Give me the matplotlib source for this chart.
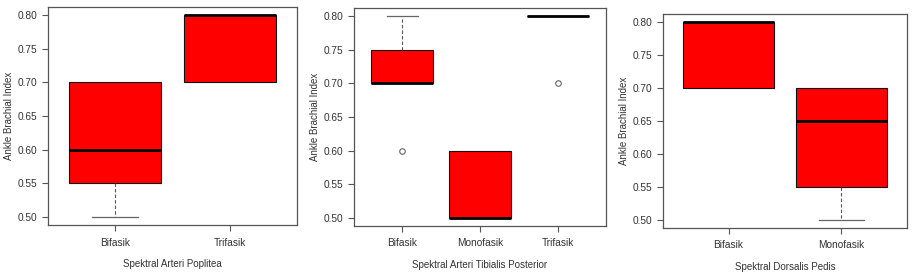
import matplotlib
matplotlib.use("Agg")
import matplotlib.pyplot as plt

plt.rcParams['font.family'] = ['Liberation Sans', 'DejaVu Sans']

# Panel 1: Spektral Arteri Poplitea
p1_cats = ["Bifasik", "Trifasik"]
p1_whislo = [0.50, 0.70]
p1_q1 = [0.55, 0.70]
p1_med = [0.60, 0.80]
p1_q3 = [0.70, 0.80]
p1_whishi = [0.70, 0.80]
p1_fliers = [[], []]

# Panel 2: Spektral Arteri Tibialis Posterior
p2_cats = ["Bifasik", "Monofasik", "Trifasik"]
p2_whislo = [0.70, 0.50, 0.80]
p2_q1 = [0.70, 0.50, 0.80]
p2_med = [0.70, 0.50, 0.80]
p2_q3 = [0.75, 0.60, 0.80]
p2_whishi = [0.80, 0.60, 0.80]
p2_fliers = [[0.60], [], [0.70]]

# Panel 3: Spektral Dorsalis Pedis
p3_cats = ["Bifasik", "Monofasik"]
p3_whislo = [0.70, 0.50]
p3_q1 = [0.70, 0.55]
p3_med = [0.80, 0.65]
p3_q3 = [0.80, 0.70]
p3_whishi = [0.80, 0.70]
p3_fliers = [[], []]

xlabels = ["Spektral Arteri Poplitea", "Spektral Arteri Tibialis Posterior",
           "Spektral Dorsalis Pedis"]
ylabel = "Ankle Brachial Index"
yticks = [0.50, 0.55, 0.60, 0.65, 0.70, 0.75, 0.80]

W, H = 921, 274
fig = plt.figure(figsize=(W / 100, H / 100), dpi=100)

def rect(l, r, t, b):
    return [l / W, (H - b) / H, (r - l) / W, (b - t) / H]

panels = [
    (rect(48, 297, 7, 225), p1_cats, p1_whislo, p1_q1, p1_med, p1_q3, p1_whishi, p1_fliers),
    (rect(354, 606, 8, 226), p2_cats, p2_whislo, p2_q1, p2_med, p2_q3, p2_whishi, p2_fliers),
    (rect(663, 907, 14, 228), p3_cats, p3_whislo, p3_q1, p3_med, p3_q3, p3_whishi, p3_fliers),
]

frame_col = "#555555"
for i, (pos, cats, wlo, q1, med, q3, whi, fl) in enumerate(panels):
    ax = fig.add_axes(pos)
    stats = []
    for j in range(len(cats)):
        stats.append(dict(label=cats[j], whislo=wlo[j], q1=q1[j], med=med[j],
                          q3=q3[j], whishi=whi[j], fliers=fl[j]))
    n = len(cats)
    res = ax.bxp(stats, positions=list(range(1, n + 1)), widths=0.8,
                 patch_artist=True, showfliers=True,
                 boxprops=dict(facecolor="#ff0000", edgecolor="#111111", linewidth=0.8),
                 medianprops=dict(color="#000000", linewidth=2.0, solid_capstyle="butt"),
                 whiskerprops=dict(color="#555555", linewidth=0.8, linestyle=(0, (3, 2))),
                 capprops=dict(color="#666666", linewidth=0.9),
                 capwidths=0.4,
                 flierprops=dict(marker="o", markerfacecolor="none", markeredgecolor="#666666",
                                 markersize=4, markeredgewidth=0.8))
    # hide caps for zero-length whiskers (they sit on the box edge)
    for j in range(n):
        if wlo[j] == q1[j]:
            res["caps"][2 * j].set_visible(False)
        if whi[j] == q3[j]:
            res["caps"][2 * j + 1].set_visible(False)
    ax.set_xlim(0.5 - 0.04 * n, n + 0.5 + 0.04 * n)
    ax.set_ylim(0.488, 0.812)
    ax.set_yticks(yticks)
    ax.set_yticklabels([f"{v:.2f}" for v in yticks])
    ax.set_xticks(list(range(1, n + 1)))
    ax.set_xticklabels(cats)
    for s in ax.spines.values():
        s.set_color(frame_col)
        s.set_linewidth(0.9)
    ax.tick_params(axis="both", colors=frame_col, labelcolor="#333333",
                   labelsize=7.3, length=4, width=0.8)
    ax.tick_params(axis="x", pad=5)
    ax.tick_params(axis="y", pad=3.5)
    ax.set_xlabel(xlabels[i], fontsize=7, color="#333333", labelpad=8)
    ax.set_ylabel(ylabel, fontsize=7, color="#333333", labelpad=3)

fig.savefig("out.png", dpi=100)
